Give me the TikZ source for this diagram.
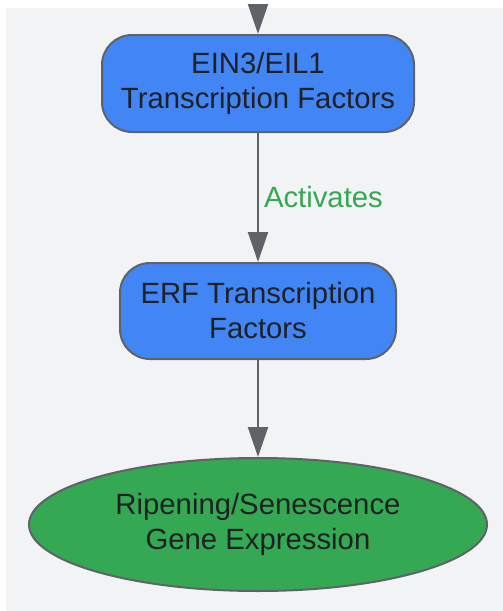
\documentclass[tikz,border=0pt]{standalone}
\usepackage{fontspec}
\setmainfont{Liberation Sans}
\usepackage{tikz}
\usetikzlibrary{arrows.meta}
\usetikzlibrary{shapes.geometric}

\definecolor{bgGray}{HTML}{F1F3F4}
\definecolor{boxBlue}{HTML}{4285F4}
\definecolor{ovalGreen}{HTML}{34A853}
\definecolor{lineGray}{HTML}{5F6368}
\definecolor{txtDark}{HTML}{202124}

\begin{document}
\begin{tikzpicture}[x=1pt,y=-1pt,
  font=\fontsize{29.3}{35}\selectfont,
  tfbox/.style={draw=lineGray, fill=boxBlue, line width=2pt, rounded corners=30pt, align=center, text=txtDark},
  genes/.style={ellipse, draw=lineGray, fill=ovalGreen, line width=2pt, align=center, text=txtDark, minimum width=458pt, minimum height=133pt, inner sep=0pt},
  flow/.style={draw=lineGray, line width=2pt, -{Triangle[length=30pt,width=20pt]}}]
\useasboundingbox (0,0) rectangle (503,611);
\fill[bgGray] (6,8) rectangle (503,611);
\coordinate (top) at (258,8);
\node[tfbox, minimum width=312pt, minimum height=97pt] (ein) at (258,83.5) {EIN3/EIL1\\Transcription Factors};
\node[tfbox, minimum width=276pt, minimum height=96pt] (erf) at (258,311) {ERF Transcription\\Factors};
\node[genes] (ripe) at (258,524.5) {Ripening/Senescence\\Gene Expression};
\draw[flow] (top) -- (ein);
\draw[flow] (ein) -- node[right, inner sep=5pt, text=ovalGreen] (act) {Activates} (erf);
\draw[flow] (erf) -- (ripe);
\end{tikzpicture}
\end{document}
